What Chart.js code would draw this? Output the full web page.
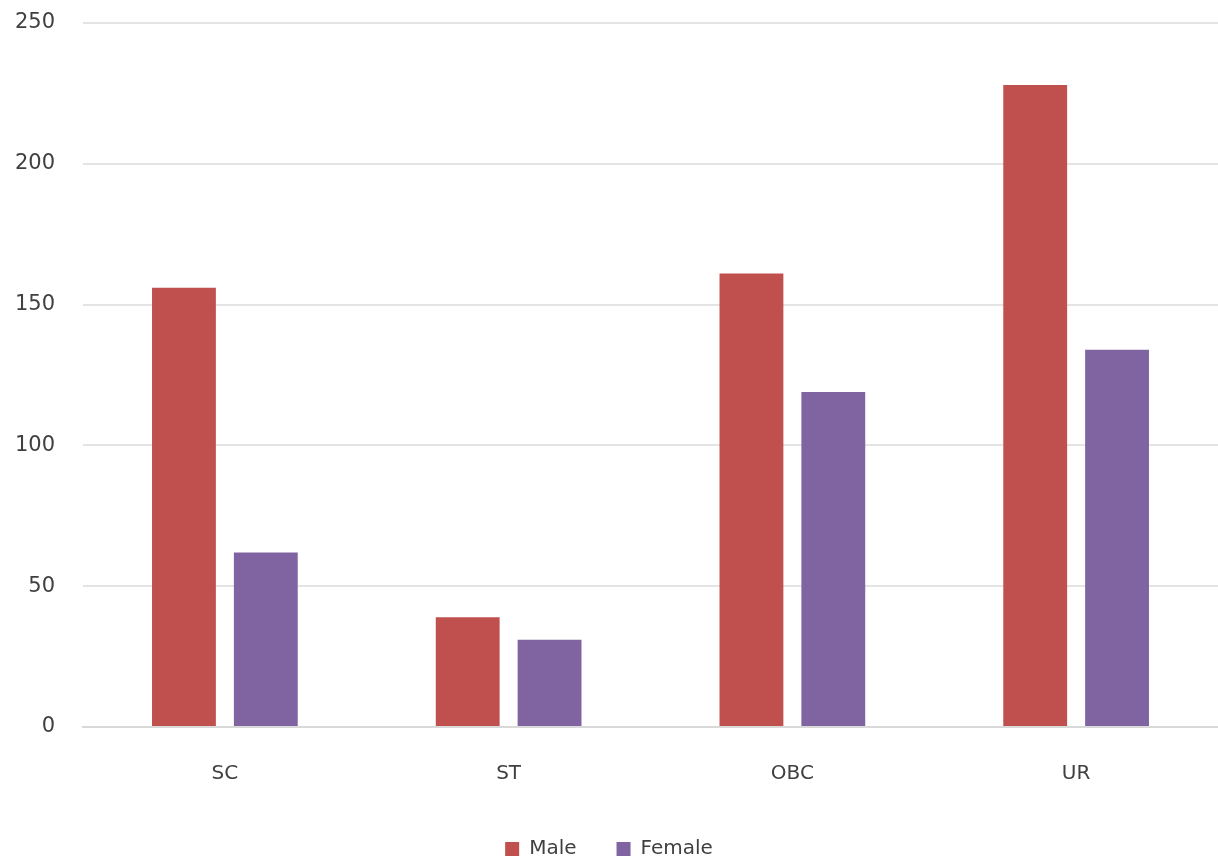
<!DOCTYPE html>
<html>
<head>
<meta charset="utf-8">
<script src="https://cdn.jsdelivr.net/npm/chart.js@4"></script>
<style>
html,body{margin:0;padding:0;background:#fff;}
#wrap{width:1218px;height:858px;}
</style>
</head>
<body>
<div id="wrap"><canvas id="c" width="1218" height="858"></canvas></div>
<script>
const categories = ["SC", "ST", "OBC", "UR"];
const maleValues = [156, 39, 161, 228];
const femaleValues = [62, 31, 119, 134];
const yTicks = [0, 50, 100, 150, 200, 250];

const FONT = "'DejaVu Sans', sans-serif";
const TEXT = '#404040';
new Chart(document.getElementById('c'), {
  type: 'bar',
  data: {
    labels: categories,
    datasets: [
      { label: 'Male', data: maleValues, backgroundColor: '#C0504D', categoryPercentage: 0.577, barPercentage: 0.78 },
      { label: 'Female', data: femaleValues, backgroundColor: '#8064A2', categoryPercentage: 0.577, barPercentage: 0.78 }
    ]
  },
  options: {
    responsive: false,
    animation: false,
    layout: { padding: { left: 0, right: 0, top: 23, bottom: -11 } },
    plugins: {
      legend: {
        position: 'bottom',
        labels: { boxWidth: 14, boxHeight: 14, padding: 40, color: TEXT, font: { family: FONT, size: 20 } }
      },
      tooltip: { enabled: false }
    },
    scales: {
      x: {
        afterFit: (s) => { s.height = 72; },
        grid: { display: false, drawTicks: false },
        border: { display: true, color: '#d9d9d9', width: 2 },
        ticks: { color: TEXT, padding: 35, font: { family: FONT, size: 20 } }
      },
      y: {
        min: 0, max: 250,
        afterFit: (s) => { s.width = 83; },
        afterBuildTicks: (axis) => { axis.ticks = yTicks.map(v => ({ value: v })); },
        grid: { color: '#e4e4e4', lineWidth: 2, drawTicks: true, tickLength: 28, tickColor: 'rgba(0,0,0,0)' },
        border: { display: false },
        ticks: { color: TEXT, padding: 0, font: { family: FONT, size: 21 } }
      }
    }
  }
});
</script>
</body>
</html>
